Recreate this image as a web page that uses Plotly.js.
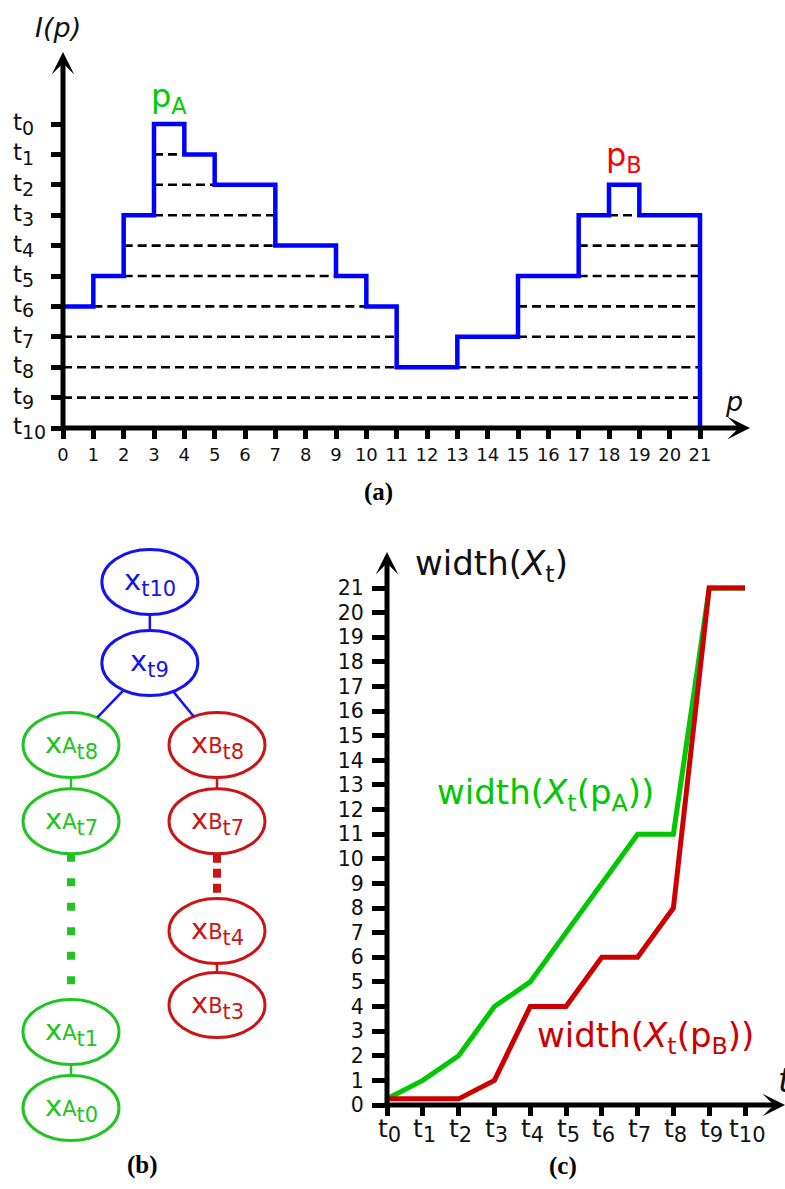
<!DOCTYPE html>
<html><head><meta charset="utf-8">
<script src="https://cdn.plot.ly/plotly-3.0.1.min.js"></script>
<style>html,body{margin:0;padding:0;background:#fff}#chart{width:785px;height:1189px}</style>
</head><body><div id="chart"></div>
<script>
// ---------- DATA ----------
// (a) profile I(p): step starts and levels (level index of t0..t10)
const pBreaks = [0, 1, 2, 3, 4, 5, 7, 9, 10, 11, 13, 15, 17, 18, 19];
const pLevels = [6, 5, 3, 0, 1, 2, 4, 5, 6, 8, 7, 5, 3, 2, 3];
const pEnd = 21;
const bottomLevel = 10;
const pTicks = [0,1,2,3,4,5,6,7,8,9,10,11,12,13,14,15,16,17,18,19,20,21];
const levelTicks = [0,1,2,3,4,5,6,7,8,9,10];
const levelNames = ['0','1','2','3','4','5','6','7','8','9','10'];

// (c) width of X_t
const tIndex = [0,1,2,3,4,5,6,7,8,9,10];
const widthA = [0.25, 1, 2, 4, 5, 7, 9, 11, 11, 21, 21];
const widthB = [0.25, 0.25, 0.25, 1, 4, 4, 6, 6, 8, 21, 21];
const widthTicks = [0,1,2,3,4,5,6,7,8,9,10,11,12,13,14,15,16,17,18,19,20,21];

// (b) component tree
const treeNodes = [
  {id:'t10', sup:'',  t:'10', group:'root'},
  {id:'t9',  sup:'',  t:'9',  group:'root'},
  {id:'A8',  sup:'A', t:'8',  group:'A'},
  {id:'A7',  sup:'A', t:'7',  group:'A'},
  {id:'A1',  sup:'A', t:'1',  group:'A'},
  {id:'A0',  sup:'A', t:'0',  group:'A'},
  {id:'B8',  sup:'B', t:'8',  group:'B'},
  {id:'B7',  sup:'B', t:'7',  group:'B'},
  {id:'B4',  sup:'B', t:'4',  group:'B'},
  {id:'B3',  sup:'B', t:'3',  group:'B'}
];
const treeEdges = [
  ['t10','t9','solid'], ['t9','A8','solid'], ['t9','B8','solid'],
  ['A8','A7','solid'], ['B8','B7','solid'],
  ['A7','A1','dotA'], ['B7','B4','dotB'],
  ['B4','B3','solid'], ['A1','A0','solid']
];
// tree layout (column / row slots)
const treeCol = {t10:0.54, t9:0.54, A8:0, A7:0, A1:0, A0:0, B8:1, B7:1, B4:1, B3:1};
const treeRow = {t10:0, t9:1.025, A8:2.063, A7:3.03, A1:5.696, A0:6.658, B8:2.063, B7:3.03, B4:4.418, B3:5.354};

// ---------- STYLE / GEOMETRY ----------
const W = 785, H = 1189;
const FONT = 'DejaVu Sans, Verdana, sans-serif';
const SERIF = 'Liberation Serif, Times New Roman, serif';
const BLUE = '#0000ff', GREEN = '#00c800', RED = '#cc0000';
const groupColor = {root:'#1414ee', A:'#22c422', B:'#cc1414'};
const fx = px => px / W, fy = py => 1 - py / H;

// panel (a) pixel frame
const aX0 = 63, aX21 = 700, aXtip = 750, aYt0 = 124, aYt10 = 428, aYtip = 52;
const aXmax = 21 * (aXtip - aX0) / (aX21 - aX0);
const aYmin = -(aYt0 - aYtip) * 10 / (aYt10 - aYt0);
// panel (c) pixel frame
const cX0 = 387, cX10 = 745, cXtip = 785, cY0 = 1105, cY21 = 588, cYtip = 552;
const cXmax = 10 * (cXtip - cX0) / (cX10 - cX0);
const cYmax = 21 * (cY0 - cYtip) / (cY0 - cY21);
// tree frame
const COL0 = 71, COLPX = 146, ROW0 = 582, ROWPX = 79, RX = 48, RY = 32.5;

// ---------- TRACES ----------
const traces = [];
// dashed level lines under the profile
(function(){
  const xs = [], ys = [];
  for (let k = 1; k <= 9; k++) {
    let start = null;
    for (let p = 0; p <= pEnd; p++) {
      let lev = null;
      if (p < pEnd) { for (let i = pBreaks.length - 1; i >= 0; i--) { if (p >= pBreaks[i]) { lev = pLevels[i]; break; } } }
      const inside = (p < pEnd) && lev < k;
      if (inside && start === null) start = p;
      if (!inside && start !== null) { xs.push(start, p, null); ys.push(k, k, null); start = null; }
    }
  }
  traces.push({x: xs, y: ys, xaxis:'x', yaxis:'y', mode:'lines', hoverinfo:'skip',
    line:{color:'#000', width:2.6, dash:'9px,5px'}, connectgaps:false, cliponaxis:false});
})();
// profile step
traces.push({
  x: pBreaks.concat([pEnd, pEnd]),
  y: pLevels.concat([pLevels[pLevels.length-1], bottomLevel]),
  xaxis:'x', yaxis:'y', mode:'lines', line:{color:BLUE, width:4.5, shape:'hv'}, cliponaxis:false, hoverinfo:'skip'
});
// (c) curves
traces.push({x:tIndex, y:widthA, xaxis:'x2', yaxis:'y2', mode:'lines', line:{color:GREEN, width:5}, cliponaxis:false});
traces.push({x:tIndex, y:widthB, xaxis:'x2', yaxis:'y2', mode:'lines', line:{color:RED, width:5}, cliponaxis:false});
// dummy trace to create tree axes
traces.push({x:[0], y:[0], xaxis:'x3', yaxis:'y3', mode:'markers', marker:{opacity:0}, hoverinfo:'skip'});

// ---------- SHAPES (tree) ----------
const shapes = [];
const center = id => [COL0 + treeCol[id]*COLPX, ROW0 + treeRow[id]*ROWPX];
treeNodes.forEach(n => {
  const [cx, cy] = center(n.id);
  shapes.push({type:'circle', xref:'x3', yref:'y3', x0:cx-RX, x1:cx+RX, y0:cy-RY, y1:cy+RY,
    line:{color:groupColor[n.group], width:3}, fillcolor:'rgba(0,0,0,0)'});
});
const nodeGroup = {}; treeNodes.forEach(n => nodeGroup[n.id] = n.group);
treeEdges.forEach(([a, b, st]) => {
  const [ax, ay] = center(a), [bx, by] = center(b);
  const dx = bx - ax, dy = by - ay;
  const s = 1 / Math.sqrt((dx/RX)**2 + (dy/RY)**2);
  const x0 = ax + dx*s, y0 = ay + dy*s, x1 = bx - dx*s, y1 = by - dy*s;
  let line = {color: groupColor[nodeGroup[a]], width: 2.5};
  if (st === 'dotA') line = {color: groupColor.A, width: 8, dash: '8px,16.5px'};
  if (st === 'dotB') line = {color: groupColor.B, width: 8, dash: '9px,6px'};
  shapes.push({type:'line', xref:'x3', yref:'y3', x0:x0, y0:y0, x1:x1, y1:y1, line:line});
});

// ---------- ANNOTATIONS ----------
const ann = [];
const arrow = (xref, yref, x, y, ax, ay) => ({xref, yref, axref:xref, ayref:yref, x, y, ax, ay, text:'',
  showarrow:true, arrowhead:3, arrowsize:0.75, arrowwidth:5, arrowcolor:'#000', standoff:0});
const label = (x, y, text, font, extra) => Object.assign({xref:'paper', yref:'paper', x:fx(x), y:fy(y),
  xanchor:'center', yanchor:'middle', text:text, showarrow:false, font:font}, extra || {});
ann.push(arrow('x','y', aXmax, bottomLevel, -0.09, bottomLevel));
ann.push(arrow('x','y', 0, aYmin, 0, bottomLevel + 0.08));
ann.push(arrow('x2','y2', cXmax, 0, -0.07, 0));
ann.push(arrow('x2','y2', 0, cYmax, 0, -0.1));
// (a) y tick labels (left aligned)
levelTicks.forEach((k, i) => ann.push({xref:'paper', yref:'y', x:fx(11), y:k, xanchor:'left', yanchor:'middle',
  text:'t<sub><span style="font-size:19px">' + levelNames[i] + '</span></sub>', showarrow:false,
  font:{family:FONT, size:23, color:'#111'}}));
// (c) x tick labels
tIndex.forEach((k, i) => ann.push({xref:'x2', yref:'paper', x:k, y:fy(1130), xanchor:'center', yanchor:'middle', xshift:2,
  text:'t<sub><span style="font-size:21px">' + levelNames[i] + '</span></sub>', showarrow:false,
  font:{family:FONT, size:25, color:'#111'}}));
// (a) titles
ann.push(label(58, 27, '<i>I(p)</i>', {family:FONT, size:27, color:'#111'}));
ann.push(label(734, 402, '<i>p</i>', {family:FONT, size:27, color:'#111'}));
ann.push({xref:'x', yref:'y', x:3.5, y:0, xanchor:'center', yanchor:'bottom', yshift:3, text:'p<sub>A</sub>', showarrow:false,
  font:{family:FONT, size:32, color:'#00cc00'}});
ann.push({xref:'x', yref:'y', x:18.5, y:2, xanchor:'center', yanchor:'bottom', yshift:5, text:'p<sub>B</sub>', showarrow:false,
  font:{family:FONT, size:32, color:'#ff0000'}});
// panel letters
ann.push(label(378, 492, '<b>(a)</b>', {family:SERIF, size:25, color:'#000'}));
ann.push(label(142, 1165, '<b>(b)</b>', {family:SERIF, size:25, color:'#000'}));
ann.push(label(563, 1166, '<b>(c)</b>', {family:SERIF, size:25, color:'#000'}));
// (c) titles / labels
ann.push(label(413, 565, 'width(<i>X</i><sub>t</sub>)', {family:FONT, size:34, color:'#111'}, {xanchor:'left'}));
ann.push(label(435, 794, 'width(<i>X</i><sub>t</sub>(p<sub>A</sub>))', {family:FONT, size:34, color:GREEN}, {xanchor:'left'}));
ann.push(label(535, 1037, 'width(<i>X</i><sub>t</sub>(p<sub>B</sub>))', {family:FONT, size:34, color:RED}, {xanchor:'left'}));
ann.push(label(776, 1080, '<i>t</i>', {family:FONT, size:34, color:'#111'}, {xanchor:'left'}));
// tree node labels
treeNodes.forEach(n => {
  const [cx, cy] = center(n.id);
  let txt = 'x';
  if (n.sup) txt += '<span style="font-size:21px">' + n.sup + '</span>';
  txt += '<sub><span style="font-size:21px">t' + n.t + '</span></sub>';
  ann.push({xref:'x3', yref:'y3', x:cx, y:cy, xanchor:'center', yanchor:'middle', text:txt, showarrow:false,
    font:{family:FONT, size:29, color:groupColor[n.group]}});
});

// ---------- LAYOUT ----------
const baseAxis = {showgrid:false, zeroline:false, showline:false, ticks:'outside', tickcolor:'#000', fixedrange:true};
const layout = {
  width:W, height:H, margin:{l:0, r:0, t:0, b:0}, showlegend:false,
  paper_bgcolor:'#fff', plot_bgcolor:'rgba(0,0,0,0)',
  xaxis: Object.assign({}, baseAxis, {domain:[fx(aX0), fx(aXtip)], range:[0, aXmax], anchor:'y',
    tickvals:pTicks, ticklen:10, tickwidth:5, tickfont:{family:FONT, size:18, color:'#111'}}),
  yaxis: Object.assign({}, baseAxis, {domain:[fy(aYt10), fy(aYtip)], range:[bottomLevel, aYmin], anchor:'x',
    tickvals:levelTicks, ticklen:11, tickwidth:5, showticklabels:false}),
  xaxis2: Object.assign({}, baseAxis, {domain:[fx(cX0), 1], range:[0, cXmax], anchor:'y2',
    tickvals:tIndex, ticklen:10, tickwidth:5, showticklabels:false}),
  yaxis2: Object.assign({}, baseAxis, {domain:[fy(cY0), fy(cYtip)], range:[0, cYmax], anchor:'x2',
    tickvals:widthTicks, ticklen:14, tickwidth:5, ticklabelstandoff:4, tickfont:{family:FONT, size:20.5, color:'#111'}}),
  xaxis3: {domain:[0, 0.4], range:[0, 0.4*W], anchor:'y3', visible:false, fixedrange:true},
  yaxis3: {domain:[0, 0.6], range:[H, H - 0.6*H], anchor:'x3', visible:false, fixedrange:true},
  shapes: shapes, annotations: ann
};
Plotly.newPlot('chart', traces, layout, {staticPlot:true, displayModeBar:false});
</script></body></html>
